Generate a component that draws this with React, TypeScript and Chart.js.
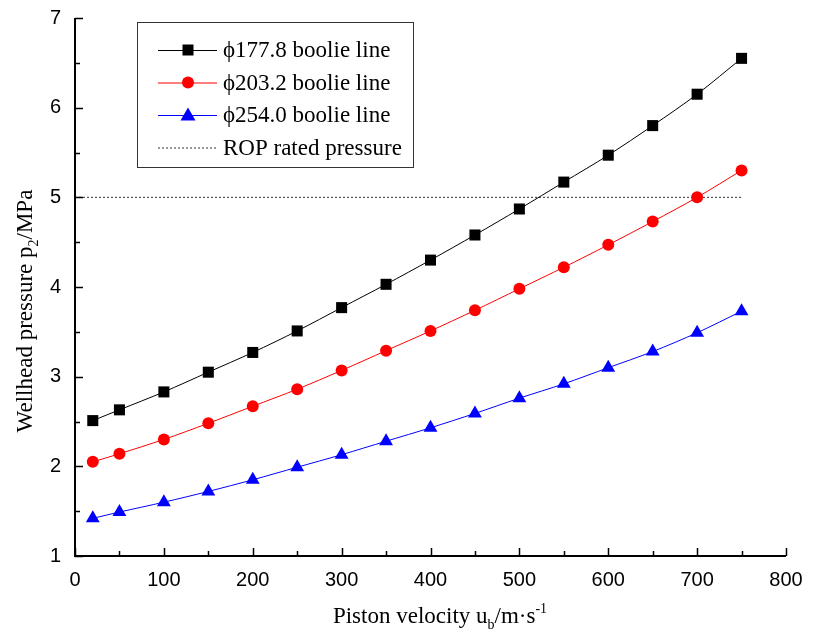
import { useEffect, useRef } from "react";
import { Chart, registerables } from "chart.js";

Chart.register(...registerables);

const velocities = [20, 50, 100, 150, 200, 250, 300, 350, 400, 450, 500, 550, 600, 650, 700, 750];
const pressure1778 = [2.51, 2.63, 2.83, 3.05, 3.27, 3.51, 3.77, 4.03, 4.30, 4.58, 4.87, 5.17, 5.47, 5.80, 6.15, 6.55];
const pressure2032 = [2.05, 2.14, 2.30, 2.48, 2.67, 2.86, 3.07, 3.29, 3.51, 3.74, 3.98, 4.22, 4.47, 4.73, 5.00, 5.30];
const pressure2540 = [1.42, 1.49, 1.60, 1.72, 1.85, 1.99, 2.13, 2.28, 2.43, 2.59, 2.76, 2.92, 3.10, 3.28, 3.49, 3.73];
const ratedPressure = 5;
const ratedRange = [0, 750];
const seriesNames = ["ϕ177.8 boolie line", "ϕ203.2 boolie line", "ϕ254.0 boolie line", "ROP rated pressure"];
const xRange = [0, 800];
const yRange = [1, 7];

const SERIF = "'Liberation Serif', 'Times New Roman', serif";
const SANS = "'Liberation Sans', Arial, sans-serif";

type Seg = { t: string; k?: "sub" | "sup" };

function drawRich(ctx: CanvasRenderingContext2D, segs: Seg[], cx: number, baseline: number, size: number) {
  const small = Math.round(size * 0.62);
  let total = 0;
  const widths = segs.map((s) => {
    ctx.font = `${s.k ? small : size}px ${SERIF}`;
    const w = ctx.measureText(s.t).width;
    total += w;
    return w;
  });
  let x = cx - total / 2;
  ctx.textAlign = "left";
  ctx.textBaseline = "alphabetic";
  segs.forEach((s, i) => {
    ctx.font = `${s.k ? small : size}px ${SERIF}`;
    const dy = s.k === "sub" ? size * 0.28 : s.k === "sup" ? -size * 0.42 : 0;
    ctx.fillText(s.t, x, baseline + dy);
    x += widths[i];
  });
}

function marker(ctx: CanvasRenderingContext2D, style: string, x: number, y: number, color: string) {
  ctx.fillStyle = color;
  ctx.beginPath();
  if (style === "rect") {
    ctx.rect(x - 5.5, y - 5.5, 11, 11);
  } else if (style === "circle") {
    ctx.arc(x, y, 6, 0, Math.PI * 2);
  } else {
    ctx.moveTo(x, y - 7.5);
    ctx.lineTo(x + 7.5, y + 5.5);
    ctx.lineTo(x - 7.5, y + 5.5);
    ctx.closePath();
  }
  ctx.fill();
}

const decorPlugin = {
  id: "decor",
  afterDraw(chart: any) {
    const ctx: CanvasRenderingContext2D = chart.ctx;
    const { left, right, top, bottom } = chart.chartArea;
    const xs = chart.scales.x;
    const ys = chart.scales.y;
    ctx.save();
    // axes
    ctx.strokeStyle = "#000";
    ctx.lineWidth = 2;
    ctx.beginPath();
    ctx.moveTo(left, top);
    ctx.lineTo(left, bottom);
    ctx.lineTo(right, bottom);
    ctx.stroke();
    // inward ticks
    ctx.lineWidth = 1.5;
    ctx.beginPath();
    for (let v = xRange[0]; v <= xRange[1]; v += 50) {
      const px = Math.round(xs.getPixelForValue(v)) + 0.5;
      const len = v % 100 === 0 ? 8 : 5;
      ctx.moveTo(px, bottom);
      ctx.lineTo(px, bottom - len);
    }
    for (let v = yRange[0]; v <= yRange[1] + 1e-9; v += 0.5) {
      const py = Math.round(ys.getPixelForValue(v)) + 0.5;
      const len = Math.abs(v - Math.round(v)) < 1e-9 ? 8 : 5;
      ctx.moveTo(left, py);
      ctx.lineTo(left + len, py);
    }
    ctx.stroke();

    // legend
    const bx = 137;
    const by = 22;
    ctx.fillStyle = "#fff";
    ctx.fillRect(bx, by, 276, 145);
    ctx.strokeStyle = "#333";
    ctx.lineWidth = 1;
    ctx.strokeRect(bx + 0.5, by + 0.5, 276, 145);
    const styles = ["rect", "circle", "triangle", "dash"];
    const colors = ["#000", "#ff0000", "#0000ff", "#333"];
    styles.forEach((st, i) => {
      const cy = by + 28 + i * 32.5;
      ctx.strokeStyle = colors[i];
      ctx.lineWidth = 1;
      ctx.setLineDash(st === "dash" ? [2, 2] : []);
      ctx.beginPath();
      ctx.moveTo(bx + 21, cy + 0.5);
      ctx.lineTo(bx + 80, cy + 0.5);
      ctx.stroke();
      ctx.setLineDash([]);
      if (st !== "dash") marker(ctx, st, bx + 51, cy, colors[i]);
      ctx.fillStyle = "#000";
      ctx.font = `23px ${SERIF}`;
      ctx.textAlign = "left";
      ctx.textBaseline = "middle";
      ctx.fillText(seriesNames[i], bx + 86, cy + 1);
    });

    // axis titles
    ctx.fillStyle = "#000";
    drawRich(
      ctx,
      [{ t: "Piston velocity u" }, { t: "b", k: "sub" }, { t: "/m·s" }, { t: "-1", k: "sup" }],
      440,
      623,
      23
    );
    ctx.save();
    ctx.translate(32, 311);
    ctx.rotate(-Math.PI / 2);
    drawRich(ctx, [{ t: "Wellhead pressure p" }, { t: "2", k: "sub" }, { t: "/MPa" }], 0, 0, 23);
    ctx.restore();
    ctx.restore();
  },
};

export default function App() {
  const ref = useRef<HTMLCanvasElement>(null);
  useEffect(() => {
    if (!ref.current) return;
    const mk = (ys: number[]) => velocities.map((x, i) => ({ x, y: ys[i] }));
    const chart = new Chart(ref.current, {
      type: "line",
      data: {
        datasets: [
          {
            label: seriesNames[0],
            data: mk(pressure1778),
            borderColor: "#000",
            backgroundColor: "#000",
            borderWidth: 1,
            pointStyle: "rect",
            pointRadius: 7.8,
            pointBorderWidth: 0,
            tension: 0.3,
          },
          {
            label: seriesNames[1],
            data: mk(pressure2032),
            borderColor: "#ff0000",
            backgroundColor: "#ff0000",
            borderWidth: 1,
            pointStyle: "circle",
            pointRadius: 6,
            pointBorderWidth: 0,
            tension: 0.3,
          },
          {
            label: seriesNames[2],
            data: mk(pressure2540),
            borderColor: "#0000ff",
            backgroundColor: "#0000ff",
            borderWidth: 1,
            pointStyle: "triangle",
            pointRadius: 8,
            pointBorderWidth: 0,
            tension: 0.3,
          },
          {
            label: seriesNames[3],
            data: ratedRange.map((x) => ({ x, y: ratedPressure })),
            borderColor: "#333",
            borderWidth: 1,
            borderDash: [2, 2],
            pointRadius: 0,
          },
        ],
      },
      options: {
        responsive: false,
        animation: false,
        layout: { padding: { top: 18, right: 42, left: 0, bottom: 0 } },
        plugins: { legend: { display: false }, tooltip: { enabled: false } },
        scales: {
          x: {
            type: "linear",
            min: xRange[0],
            max: xRange[1],
            grid: { display: false, drawTicks: false },
            border: { display: false },
            ticks: { stepSize: 100, padding: 12, color: "#000", font: { family: SANS, size: 20 } },
            afterFit: (s: any) => {
              s.height = 88;
              s.paddingLeft = 0;
              s.paddingRight = 0;
            },
          },
          y: {
            min: yRange[0],
            max: yRange[1],
            grid: { display: false, drawTicks: false },
            border: { display: false },
            ticks: { stepSize: 1, padding: 14, color: "#000", font: { family: SANS, size: 20 } },
            afterFit: (s: any) => {
              s.width = 75;
              s.paddingTop = 0;
              s.paddingBottom = 0;
            },
          },
        },
      },
      plugins: [decorPlugin],
    });
    return () => chart.destroy();
  }, []);
  return (
    <div style={{ position: "fixed", left: 0, top: 0, width: 828, height: 644, background: "#fff" }}>
      <canvas ref={ref} width={828} height={644} />
    </div>
  );
}
